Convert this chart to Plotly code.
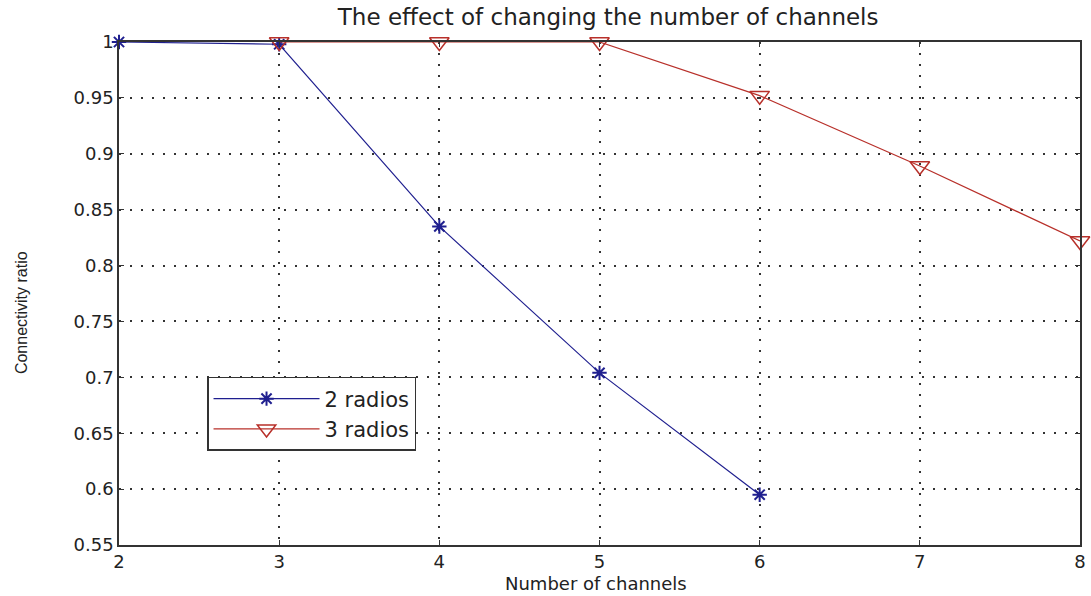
import plotly.graph_objects as go

x_two = [2, 3, 4, 5, 6]
y_two = [1.0, 0.998, 0.835, 0.704, 0.595]
x_three = [3, 4, 5, 6, 7, 8]
y_three = [1.0, 1.0, 1.0, 0.952, 0.889, 0.822]
x_ticks = [2, 3, 4, 5, 6, 7, 8]
y_ticks = [0.55, 0.6, 0.65, 0.7, 0.75, 0.8, 0.85, 0.9, 0.95, 1.0]
y_tick_text = ["0.55", "0.6", "0.65", "0.7", "0.75", "0.8", "0.85", "0.9", "0.95", "1"]

FONT = "DejaVu Sans, Liberation Sans, Arial"
TXT = "#222222"

fig = go.Figure()
fig.add_trace(go.Scatter(
    x=x_two, y=y_two, mode="lines+markers", name="2 radios",
    line=dict(color="#1f1f8f", width=1.2),
    marker=dict(symbol="asterisk-open", size=12, line=dict(color="#1f1f8f", width=2)),
    cliponaxis=False,
))
fig.add_trace(go.Scatter(
    x=x_three, y=y_three, mode="lines+markers", name="3 radios",
    line=dict(color="#b8302a", width=1.2),
    marker=dict(symbol="triangle-down-open", size=17, color="#b8302a",
                line=dict(color="#b8302a", width=1.5)),
    cliponaxis=False,
))

axis_common = dict(
    showline=True, linecolor="#333333", linewidth=1.5, mirror="ticks",
    ticks="inside", ticklen=5, tickcolor="#333333",
    showgrid=True, gridcolor="#333333", griddash="2px,9px", gridwidth=1.5,
    zeroline=False, automargin=False, tickfont=dict(family=FONT, size=18, color=TXT),
)

fig.update_layout(
    width=1091, height=596,
    margin=dict(l=119, r=11, t=42, b=51),
    paper_bgcolor="white", plot_bgcolor="white",
    title=dict(text="The effect of changing the number of channels", x=0.509, xref="paper",
               xanchor="center", y=0.985, yanchor="top",
               font=dict(family=FONT, size=23, color=TXT)),
    xaxis=dict(range=[2, 8], tickvals=x_ticks, **axis_common),
    yaxis=dict(range=[0.55, 1.0], tickvals=y_ticks, ticktext=y_tick_text, **axis_common),
    legend=dict(x=0.0916, y=0.334, xanchor="left", yanchor="top",
                bordercolor="#333333", borderwidth=1.5, bgcolor="white",
                font=dict(family=FONT, size=21, color=TXT),
                itemwidth=106, tracegroupgap=0),
    showlegend=True,
    annotations=[
        dict(text="Number of channels", xref="paper", yref="paper", x=0.5, y=0,
             xanchor="center", yanchor="bottom", xshift=-4, yshift=-50, showarrow=False,
             borderpad=0, font=dict(family=FONT, size=18, color=TXT)),
        dict(text="Connectivity ratio", xref="paper", yref="paper", x=0, y=0.461,
             xanchor="center", yanchor="middle", xshift=-98, textangle=-90, showarrow=False,
             font=dict(family="Liberation Sans, Arial", size=16, color=TXT)),
    ],
)

fig.write_html("out.html")
